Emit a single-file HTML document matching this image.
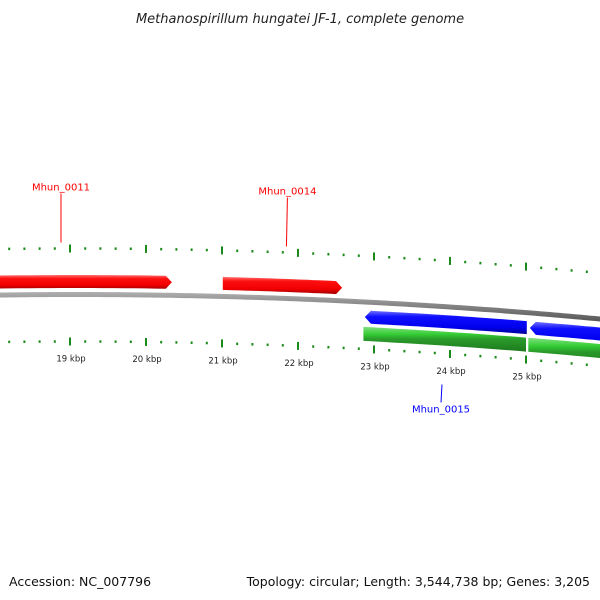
<!DOCTYPE html>
<html><head><meta charset="utf-8"><style>
html,body{margin:0;padding:0;background:#fff;width:600px;height:600px;overflow:hidden}
svg{display:block;font-family:"DejaVu Sans","Liberation Sans",sans-serif}
</style></head><body>
<svg id="chart" width="600" height="600" viewBox="0 0 600 600">
<defs>
<linearGradient id="gRed" x1="0" y1="0" x2="0" y2="1"><stop offset="0" stop-color="#ff7070"/><stop offset="0.25" stop-color="#ff1010"/><stop offset="0.7" stop-color="#f00000"/><stop offset="1" stop-color="#a00000"/></linearGradient>
<linearGradient id="gBlue" x1="0" y1="0" x2="0" y2="1"><stop offset="0" stop-color="#7070ff"/><stop offset="0.25" stop-color="#1010ff"/><stop offset="0.7" stop-color="#0000ee"/><stop offset="1" stop-color="#00009a"/></linearGradient>
<linearGradient id="gGreen" x1="0" y1="0" x2="0" y2="1"><stop offset="0" stop-color="#80e080"/><stop offset="0.3" stop-color="#33cc33"/><stop offset="0.5" stop-color="#2a9a2a"/><stop offset="1" stop-color="#1e7a1e"/></linearGradient>
<linearGradient id="gGray" x1="0" y1="0" x2="0" y2="1"><stop offset="0" stop-color="#b0b0b0"/><stop offset="0.5" stop-color="#808080"/><stop offset="1" stop-color="#555"/></linearGradient>
</defs>
<text x="300" y="23" text-anchor="middle" font-size="13" font-style="italic" fill="#222">Methanospirillum hungatei JF-1, complete genome</text>
<g id="layer"></g>
<text x="9" y="586" font-size="12.5" fill="#111">Accession: NC_007796</text>
<text x="590" y="586" text-anchor="end" font-size="12.5" fill="#111">Topology: circular; Length: 3,544,738 bp; Genes: 3,205</text>
</svg>
<script>
const tickKbp = [19, 20, 21, 22, 23, 24, 25];
const tickLabels = ["19 kbp","20 kbp","21 kbp","22 kbp","23 kbp","24 kbp","25 kbp"];
const geneNames = ["Mhun_0011","Mhun_0014","Mhun_0015","gene-b2","gene-g1","gene-g2"];
const geneStart = [17.5, 21.01, 22.88, 25.05, 22.86, 25.03];
const geneEnd   = [20.34, 22.58, 25.01, 27.0, 25.0, 27.0];
const geneStrand = [1, 1, -1, -1, 0, 0];
const geneTrack = ["fwd","fwd","rev","rev","rna","rna"];
const labeled = [0, 1, 2];

const ns = "http://www.w3.org/2000/svg";
const layer = document.getElementById("layer");
function X(k){ return 70 + (k - 19) * 76; }
function Y(x, off){ return 294.5 + off + (x - 75) * (x - 75) / 11250; }
function mk(tag, attrs){ const e = document.createElementNS(ns, tag); for (const k in attrs) e.setAttribute(k, attrs[k]); layer.appendChild(e); return e; }

// backbone
let d = "";
for (let x = -5; x <= 605; x += 5) d += (x === -5 ? "M" : "L") + x + "," + Y(x, -2.5).toFixed(2);
for (let x = 605; x >= -5; x -= 5) d += "L" + x + "," + Y(x, 2.5).toFixed(2);
const bb = mk("path", {d: d + "Z", fill: "url(#gGray)"});



// ticks
for (let i = 0; i < 45; i++) {
  const k = 18 + i * 0.2;
  const x = X(k);
  if (x < 0 || x > 600) continue;
  const major = Math.abs(k - Math.round(k)) < 0.01;
  const h = major ? 8 : 2.5;
  ["upper", "lower"].forEach(function (side) {
    const off = side === "upper" ? -46 : 47;
    const yc = Y(x, off);
    const t = mk("rect", {x: x - 1, y: yc - h / 2, width: 2, height: h, fill: "#1a8a1a"});
    
    
  });
}
tickKbp.forEach(function (k, i) {
  const x = X(k);
  const t = mk("text", {x: x + 1, y: Y(x, 67), "text-anchor": "middle", "font-size": "8.5", fill: "#222"});
  t.textContent = tickLabels[i];
  
  
});

// genes
const trackOff = {fwd: -13, rev: 15, rna: 32};
const fills = {fwd: "url(#gRed)", rev: "url(#gBlue)", rna: "url(#gGreen)"};
geneStart.forEach(function (s, i) {
  const off = trackOff[geneTrack[i]];
  const hh = geneTrack[i] === "rna" ? 7 : 6.5;
  let x0 = X(s), x1 = X(geneEnd[i]);
  const head = 6;
  let a = x0, b = x1;
  if (geneStrand[i] === 1) b = x1 - head;
  if (geneStrand[i] === -1) a = x0 + head;
  let p = "";
  const n = 20;
  for (let j = 0; j <= n; j++) { const x = a + (b - a) * j / n; p += (j ? "L" : "M") + x.toFixed(1) + "," + Y(x, off - hh).toFixed(1); }
  if (geneStrand[i] === 1) p += "L" + x1 + "," + Y(x1, off).toFixed(1);
  for (let j = n; j >= 0; j--) { const x = a + (b - a) * j / n; p += "L" + x.toFixed(1) + "," + Y(x, off + hh).toFixed(1); }
  if (geneStrand[i] === -1) p += "L" + x0 + "," + Y(x0, off).toFixed(1);
  const g = mk("path", {d: p + "Z", fill: fills[geneTrack[i]]});
  
  
});

// labels
const labelCol = {fwd: "#ff0000", rev: "#0000ff", rna: "#00aa00"};
labeled.forEach(function (i) {
  const xm = X((geneStart[i] + Math.min(geneEnd[i], 27)) / 2);
  const up = geneTrack[i] === "fwd";
  let lx, ty;
  if (i === 0) { lx = 61; }
  else { lx = (X(geneStart[i]) + X(geneEnd[i])) / 2 + 5; }
  const c = labelCol[geneTrack[i]];
  if (up) {
    const yb = Y(lx, -52);
    const ya = yb - 49;
    const l = mk("line", {x1: lx, y1: ya, x2: lx - (i === 1 ? 1 : 0), y2: yb, stroke: c, "stroke-width": 1});
    
    
    const t = mk("text", {x: lx, y: ya - 3, "text-anchor": "middle", "font-size": "10", fill: c});
    t.textContent = geneNames[i];
    
    
  } else {
    lx = 442;
    const ya = Y(lx, 78);
    const l = mk("line", {x1: lx, y1: ya, x2: lx - 1, y2: ya + 18, stroke: c, "stroke-width": 1});
    
    
    const t = mk("text", {x: lx - 1, y: ya + 28, "text-anchor": "middle", "font-size": "10", fill: c});
    t.textContent = geneNames[i];
    
    
  }
});
</script>
</body></html>
